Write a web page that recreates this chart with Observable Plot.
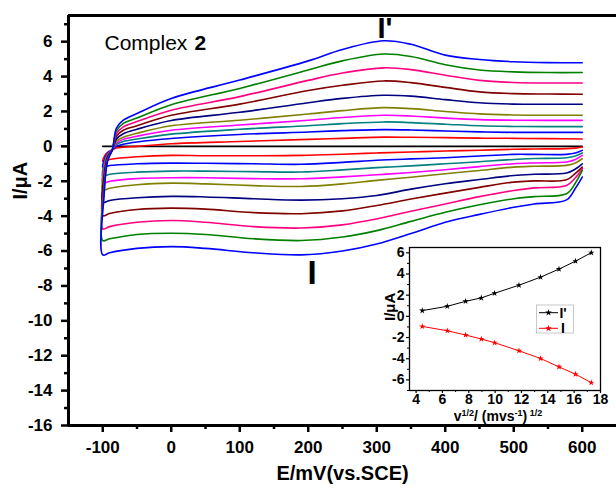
<!DOCTYPE html>
<html><head><meta charset="utf-8">
<script src="https://cdn.jsdelivr.net/npm/d3@7"></script>
<script src="https://cdn.jsdelivr.net/npm/@observablehq/plot@0.6"></script>
<style>
body{margin:0;background:#fff;}
#wrap{position:relative;width:616px;height:491px;overflow:hidden;background:#fff;}
#main{position:absolute;left:0;top:0;}
#inset{position:absolute;left:364px;top:242px;}
</style></head><body><div id="wrap"><div id="main"></div><div id="inset"></div></div>
<script>
// ---------- data ----------
const seriesNames = ["curve 1","curve 2","curve 3","curve 4","curve 5","curve 6","curve 7","curve 8","curve 9","curve 10"];
const seriesColors = ["#ff0000","#0000ff","#008080","#ff00ff","#808000","#000080","#800000","#ff0080","#008000","#0000ff"];

// forward (anodic) sweep potentials, mV
const E_forward = [-100, -98, -93, -86, -80, -70, -50, 0, 100, 200, 250, 310, 350, 400, 450, 500, 550, 600];
const fwd1  = [-0.85, -0.6, -0.35, -0.2, -0.1, -0.05, 0.0, 0.15, 0.28, 0.4, 0.46, 0.53, 0.52, 0.5, 0.47, 0.46, 0.44, 0.42];
const fwd2  = [-1.2, -0.8, -0.4, -0.2, 0.0, 0.12, 0.25, 0.45, 0.68, 0.82, 0.9, 0.96, 0.94, 0.88, 0.83, 0.8, 0.8, 0.8];
const fwd3  = [-1.7, -1.0, -0.45, -0.2, 0.1, 0.28, 0.42, 0.7, 0.98, 1.18, 1.3, 1.4, 1.36, 1.27, 1.18, 1.14, 1.13, 1.13];
const fwd4  = [-2.1, -1.2, -0.5, -0.2, 0.18, 0.4, 0.58, 0.92, 1.22, 1.5, 1.65, 1.78, 1.74, 1.62, 1.53, 1.5, 1.49, 1.49];
const fwd5  = [-2.5, -1.4, -0.55, -0.2, 0.28, 0.52, 0.75, 1.18, 1.5, 1.85, 2.05, 2.22, 2.16, 2.0, 1.86, 1.8, 1.78, 1.78];
const fwd6  = [-3.2, -1.7, -0.6, -0.2, 0.42, 0.72, 0.98, 1.48, 1.95, 2.5, 2.75, 2.93, 2.88, 2.68, 2.5, 2.42, 2.41, 2.41];
const fwd7  = [-3.97, -2.0, -0.7, -0.2, 0.58, 0.92, 1.18, 1.78, 2.42, 3.2, 3.5, 3.75, 3.65, 3.38, 3.12, 3.02, 3.0, 2.99];
const fwd8  = [-4.73, -2.3, -0.75, -0.2, 0.72, 1.12, 1.42, 2.07, 2.85, 3.78, 4.2, 4.5, 4.4, 4.08, 3.78, 3.66, 3.63, 3.63];
const fwd9  = [-5.4, -2.5, -0.8, -0.2, 0.88, 1.32, 1.62, 2.38, 3.32, 4.38, 4.9, 5.29, 5.15, 4.68, 4.38, 4.27, 4.23, 4.23];
const fwd10 = [-6.22, -2.8, -0.85, -0.2, 1.05, 1.5, 1.88, 2.74, 3.8, 4.9, 5.55, 6.05, 5.85, 5.23, 4.98, 4.85, 4.8, 4.79];

// reverse (cathodic) sweep potentials, mV
const E_reverse = [600, 590, 577, 530, 500, 450, 400, 350, 300, 250, 190, 120, 50, 0, -50, -90, -100];
const rev1  = [-0.04, -0.1, -0.13, -0.15, -0.17, -0.22, -0.27, -0.32, -0.38, -0.45, -0.52, -0.54, -0.54, -0.52, -0.6, -0.75, -0.85];
const rev2  = [-0.23, -0.38, -0.46, -0.46, -0.46, -0.55, -0.65, -0.72, -0.8, -0.92, -1.03, -1.0, -0.97, -0.96, -1.0, -1.1, -1.2];
const rev3  = [-0.38, -0.55, -0.65, -0.7, -0.75, -0.88, -1.0, -1.12, -1.22, -1.35, -1.47, -1.45, -1.42, -1.42, -1.48, -1.6, -1.7];
const rev4  = [-0.52, -0.75, -0.9, -0.95, -1.0, -1.16, -1.34, -1.5, -1.63, -1.75, -1.86, -1.85, -1.8, -1.8, -1.85, -2.0, -2.1];
const rev5  = [-0.71, -0.95, -1.09, -1.14, -1.19, -1.38, -1.57, -1.77, -1.95, -2.15, -2.3, -2.25, -2.15, -2.11, -2.2, -2.4, -2.5];
const rev6  = [-1.0, -1.3, -1.53, -1.6, -1.67, -1.9, -2.14, -2.45, -2.82, -3.0, -3.08, -3.0, -2.9, -2.87, -2.95, -3.1, -3.2];
const rev7  = [-1.19, -1.55, -1.92, -1.98, -2.05, -2.35, -2.68, -3.02, -3.39, -3.7, -3.86, -3.8, -3.6, -3.54, -3.62, -3.85, -3.97];
const rev8  = [-1.28, -1.8, -2.24, -2.38, -2.53, -2.88, -3.3, -3.72, -4.16, -4.5, -4.68, -4.6, -4.35, -4.25, -4.35, -4.6, -4.73];
const rev9  = [-1.38, -2.1, -2.72, -2.88, -3.0, -3.35, -3.78, -4.3, -4.83, -5.2, -5.4, -5.3, -5.05, -4.98, -5.05, -5.3, -5.4];
const rev10 = [-1.76, -2.4, -3.07, -3.3, -3.49, -3.9, -4.35, -5.0, -5.6, -6.0, -6.22, -6.1, -5.85, -5.75, -5.85, -6.1, -6.22];

// blank trace
const blankE = [-100, 600];
const blankI = [0, 0];

// peak annotations
const peakLabels = ["I'", "I"];
const peakLabelE = [301, 199];
const peakLabelI = [7.39, -6.57];
const peakLabelSize = [29, 33];

// axis ticks
const xTicks = [-100, 0, 100, 200, 300, 400, 500, 600];
const xMinor = [-50, 50, 150, 250, 350, 450, 550];
const yTicks = [-16, -14, -12, -10, -8, -6, -4, -2, 0, 2, 4, 6];
const yMinor = [-15, -13, -11, -9, -7, -5, -3, -1, 1, 3, 5, 7];

// inset: peak current vs sqrt(scan rate)
const sqrtRate = [4.47, 6.37, 7.76, 8.95, 9.96, 11.81, 13.45, 14.85, 16.1, 17.3];
const peakAnodic = [0.54, 0.95, 1.42, 1.74, 2.18, 2.94, 3.70, 4.46, 5.21, 6.01];
const peakCathodic = [-0.95, -1.36, -1.76, -2.14, -2.49, -3.25, -3.98, -4.77, -5.46, -6.26];
const insetSeries = ["I'", "I"];
const insetColors = ["#000000", "#ff0000"];
const insetXTicks = [4, 6, 8, 10, 12, 14, 16, 18];
const insetXMinor = [5, 7, 9, 11, 13, 15, 17];
const insetYTicks = [-6, -4, -2, 0, 2, 4, 6];
const insetYMinor = [-7, -5, -3, -1, 1, 3, 5];

// ---------- build tables ----------
const fwd = [fwd1,fwd2,fwd3,fwd4,fwd5,fwd6,fwd7,fwd8,fwd9,fwd10];
const rev = [rev1,rev2,rev3,rev4,rev5,rev6,rev7,rev8,rev9,rev10];
const cv = [];
seriesNames.forEach((s, k) => {
  E_reverse.forEach((e, i) => cv.push({series: s, E: e, I: rev[k][i]}));
  E_forward.forEach((e, i) => { if (i > 0) cv.push({series: s, E: e, I: fwd[k][i]}); });
});
const blank = blankE.map((e, i) => ({E: e, I: blankI[i]}));
const peaks = peakLabels.map((t, i) => ({t, E: peakLabelE[i], I: peakLabelI[i], s: peakLabelSize[i]}));

const FONT = "'Liberation Sans', Arial, Helvetica, sans-serif";

const main = Plot.plot({
  width: 616, height: 491,
  marginLeft: 68, marginRight: 0, marginTop: 15, marginBottom: 66,
  style: {fontFamily: FONT, background: "white", overflow: "visible"},
  x: {domain: [-150, 650], axis: null},
  y: {domain: [-16, 7.5], axis: null},
  color: {domain: seriesNames, range: seriesColors},
  marks: [
    Plot.axisX({ticks: xTicks, tickSize: 7, tickPadding: 8, strokeWidth: 2.5, fontSize: 17, fontWeight: "bold", tickFormat: d => String(d), label: null}),
    Plot.axisX({ticks: xMinor, tickSize: 4, strokeWidth: 2.5, text: null, label: null}),
    Plot.axisY({ticks: yTicks, tickSize: 7, tickPadding: 9, strokeWidth: 2.5, fontSize: 17, fontWeight: "bold", tickFormat: d => String(d), label: null}),
    Plot.axisY({ticks: yMinor, tickSize: 4, strokeWidth: 2.5, text: null, label: null}),
    Plot.line(blank, {x: "E", y: "I", stroke: "black", strokeWidth: 1.6}),
    Plot.line(cv, {x: "E", y: "I", z: "series", stroke: "series", strokeWidth: 1.6, curve: "catmull-rom"}),
    Plot.ruleY([-16], {strokeWidth: 3}),
    Plot.ruleY([7.5], {strokeWidth: 3}),
    Plot.ruleX([-150], {strokeWidth: 3}),
    Plot.text(peaks, {x: "E", y: "I", text: "t", fontSize: "s", fontWeight: "bold", textAnchor: "start", lineAnchor: "top"}),
    Plot.text(["Complex"], {frameAnchor: "top-left", dx: 36, dy: 20, fontSize: 21, textAnchor: "start", lineAnchor: "top"}),
    Plot.text(["2"], {frameAnchor: "top-left", dx: 126, dy: 20, fontSize: 21, fontWeight: "bold", textAnchor: "start", lineAnchor: "top"}),
    Plot.text(["I/μA"], {frameAnchor: "left", dx: -48, dy: -21, rotate: -90, fontSize: 20, fontWeight: "bold"}),
    Plot.text(["E/mV(vs.SCE)"], {frameAnchor: "bottom", dy: 54, fontSize: 20, fontWeight: "bold"})
  ]
});
document.getElementById("main").appendChild(main);

// inset
const insetData = [];
sqrtRate.forEach((v, i) => insetData.push({series: "I'", v, I: peakAnodic[i]}));
sqrtRate.forEach((v, i) => insetData.push({series: "I", v, I: peakCathodic[i]}));

const inset = Plot.plot({
  width: 246, height: 188,
  marginLeft: 45, marginRight: 10, marginTop: 5, marginBottom: 40,
  style: {fontFamily: FONT, background: "transparent", overflow: "visible"},
  x: {domain: [3.5, 18], axis: null},
  y: {domain: [-7, 6.5], axis: null},
  color: {domain: insetSeries, range: insetColors},
  marks: [
    Plot.frame({fill: "white", stroke: "none"}),
    Plot.axisX({ticks: insetXTicks, tickSize: 3, tickPadding: 1, strokeWidth: 1.2, fontSize: 14, fontWeight: "bold", label: null}),
    Plot.axisX({ticks: insetXMinor, tickSize: 2, strokeWidth: 1, text: null, label: null}),
    Plot.axisY({ticks: insetYTicks, tickSize: 3, tickPadding: 2, strokeWidth: 1.2, fontSize: 14, fontWeight: "bold", tickFormat: d => String(d), label: null}),
    Plot.axisY({ticks: insetYMinor, tickSize: 2, strokeWidth: 1, text: null, label: null}),
    Plot.line(insetData, {x: "v", y: "I", z: "series", stroke: "series", strokeWidth: 1}),
    Plot.dot(insetData, {x: "v", y: "I", fill: "series", symbol: "star", r: 2.0}),
    Plot.frame({stroke: "black", strokeWidth: 1.3}),
    Plot.text(["I/μA"], {frameAnchor: "left", dx: -19, dy: 2, rotate: -90, fontSize: 15, fontWeight: "bold"})
  ]
});
document.getElementById("inset").appendChild(inset);

// inset x-axis label with superscripts
const isvg = d3.select(inset);
const lab = isvg.append("text")
  .attr("x", 134).attr("y", 179).attr("text-anchor", "middle")
  .attr("font-family", FONT).attr("font-weight", "bold").attr("font-size", 14).attr("fill", "black");
lab.append("tspan").text("v");
lab.append("tspan").attr("font-size", 9).attr("dy", -5).text("1/2");
lab.append("tspan").attr("dy", 5).text("/ (mvs");
lab.append("tspan").attr("font-size", 9).attr("dy", -5).text("-1");
lab.append("tspan").attr("dy", 5).text(")");
lab.append("tspan").attr("font-size", 9).attr("dy", -5).text(" 1/2");

// inset legend
const leg = isvg.append("g").attr("font-family", FONT);
leg.append("rect").attr("x", 172.5).attr("y", 63).attr("width", 37).attr("height", 28)
  .attr("fill", "white").attr("stroke", "#bbb").attr("stroke-width", 0.8);
const star = d3.symbol(d3.symbolStar, 14)();
insetSeries.forEach((s, i) => {
  const y = 70.7 + i * 15.6;
  leg.append("line").attr("x1", 175).attr("x2", 194).attr("y1", y).attr("y2", y)
    .attr("stroke", insetColors[i]).attr("stroke-width", 1);
  leg.append("path").attr("d", star).attr("transform", `translate(184.5,${y})`).attr("fill", insetColors[i]);
  leg.append("text").attr("x", 199).attr("y", y + 5).attr("font-size", 14).attr("font-weight", "bold").text(s);
});
</script></body></html>
